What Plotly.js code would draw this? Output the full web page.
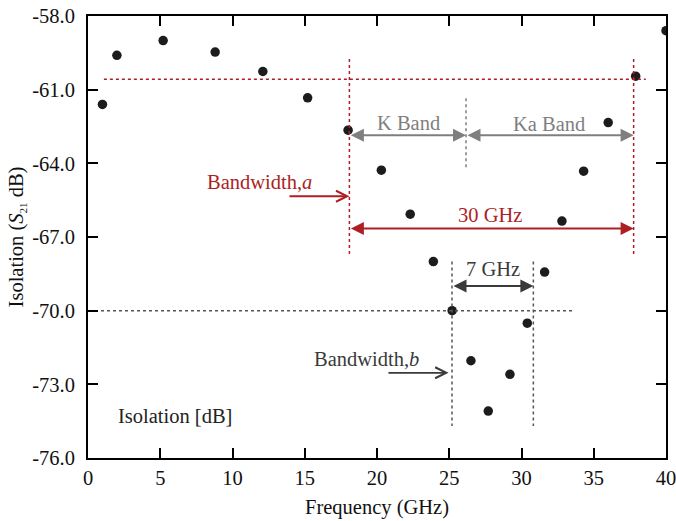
<!DOCTYPE html>
<html>
<head>
<meta charset="utf-8">
<script src="https://cdn.plot.ly/plotly-3.0.1.min.js"></script>
<style>html,body{margin:0;padding:0;background:#fff;}#chart{width:676px;height:521px;}</style>
</head>
<body>
<div id="chart"></div>
<script>
// Measured isolation values (frequency in GHz, isolation in dB)
const freq = [1.0, 2.0, 5.2, 8.8, 12.1, 15.2, 18.0, 20.3, 22.3, 23.9, 25.2, 26.5, 27.7, 29.2, 30.4, 31.6, 32.8, 34.3, 36.0, 37.9, 40.0];
const isolation = [-61.6, -59.6, -59.0, -59.47, -60.26, -61.33, -62.65, -64.28, -66.07, -68.0, -70.0, -72.04, -74.09, -72.59, -70.51, -68.43, -66.35, -64.32, -62.34, -60.45, -58.6];

const yTickVals = [-58, -61, -64, -67, -70, -73, -76];
const yTickText = ["-58.0", "-61.0", "-64.0", "-67.0", "-70.0", "-73.0", "-76.0"];
const xTickVals = [0, 5, 10, 15, 20, 25, 30, 35, 40];
const xTickText = ["0", "5", "10", "15", "20", "25", "30", "35", "40"];

// Reference levels and band edges
const levelA = -60.58;      // bandwidth a threshold
const levelB = -70.0;       // bandwidth b threshold
const edgeA = [18.09, 37.76];
const edgeB = [25.19, 30.82];
const kKaSplit = 26.16;

const RED = '#ad1f24';
const GRAY = '#7f7f7f';
const DARK = '#3a3a3a';
const FONT = 'Liberation Serif, Times New Roman, serif';
const FS = 20.5;

const shapes = [
  {type:'line', xref:'x', yref:'y', x0:1.1, x1:38.6, y0:levelA, y1:levelA, line:{color:RED, width:1.5, dash:'dot'}},
  {type:'line', xref:'x', yref:'y', x0:edgeA[0], x1:edgeA[0], y0:-59.75, y1:-67.8, line:{color:RED, width:1.5, dash:'dot'}},
  {type:'line', xref:'x', yref:'y', x0:edgeA[1], x1:edgeA[1], y0:-59.75, y1:-67.8, line:{color:RED, width:1.5, dash:'dot'}},
  {type:'line', xref:'x', yref:'y', x0:kKaSplit, x1:kKaSplit, y0:-61.35, y1:-64.28, line:{color:GRAY, width:1.5, dash:'dot'}},
  {type:'line', xref:'x', yref:'y', x0:0.9, x1:33.5, y0:levelB, y1:levelB, line:{color:'#555', width:1.5, dash:'dot'}},
  {type:'line', xref:'x', yref:'y', x0:edgeB[0], x1:edgeB[0], y0:-68.0, y1:-74.7, line:{color:'#555', width:1.5, dash:'dot'}},
  {type:'line', xref:'x', yref:'y', x0:edgeB[1], x1:edgeB[1], y0:-68.0, y1:-74.7, line:{color:'#555', width:1.5, dash:'dot'}}
];

function dblArrow(x0, x1, y, color) {
  return {xref:'x', yref:'y', axref:'x', ayref:'y', x:x1, y:y, ax:x0, ay:y, text:'',
    showarrow:true, arrowside:'end+start', arrowhead:2, startarrowhead:2,
    arrowsize:1.3, startarrowsize:1.3, arrowwidth:2, arrowcolor:color, standoff:0, startstandoff:0};
}
function arrow(x0, x1, y, color) {
  return {xref:'x', yref:'y', axref:'x', ayref:'y', x:x1, y:y, ax:x0, ay:y, text:'',
    showarrow:true, arrowhead:5, arrowsize:1.2, arrowwidth:1.8, arrowcolor:color, standoff:0};
}
function label(x, y, txt, color) {
  return {xref:'x', yref:'y', x:x, y:y, text:txt, showarrow:false, xanchor:'center', yanchor:'middle',
    font:{family:FONT, size:FS, color:color}};
}

const annotations = [
  dblArrow(edgeA[0], kKaSplit, -62.86, GRAY),
  dblArrow(kKaSplit, edgeA[1], -62.86, GRAY),
  dblArrow(edgeA[0], edgeA[1], -66.65, RED),
  dblArrow(edgeB[0], edgeB[1], -69.0, DARK),
  arrow(13.84, edgeA[0], -65.34, RED),
  arrow(20.69, 24.95, -72.53, DARK),
  label(22.15, -62.37, 'K Band', GRAY),
  label(31.9, -62.41, 'Ka Band', GRAY),
  label(27.82, -66.1, '30 GHz', RED),
  label(11.9, -64.77, 'Bandwidth,<i>a</i>', RED),
  label(28.0, -68.3, '7 GHz', DARK),
  label(19.3, -71.96, 'Bandwidth,<i>b</i>', DARK),
  label(6.02, -74.3, 'Isolation [dB]', '#222')
];

const trace = {
  x: freq, y: isolation, type:'scatter', mode:'markers',
  marker:{size:9.5, color:'#1c1c1c'}, cliponaxis:true, hoverinfo:'skip'
};

const layout = {
  width:676, height:521,
  margin:{l:88, r:10, t:16, b:63},
  paper_bgcolor:'#fff', plot_bgcolor:'#fff',
  showlegend:false,
  font:{family:FONT, size:FS, color:'#111'},
  xaxis:{range:[0,40], tickvals:xTickVals, ticktext:xTickText, ticks:'inside', ticklen:10, tickwidth:2,
    tickcolor:'#000', showline:true, linewidth:2, linecolor:'#000', mirror:'allticks', showgrid:false, zeroline:false,
    tickfont:{family:FONT, size:FS, color:'#111'}, ticklabeloverflow:'allow',
    title:{text:'Frequency (GHz)', font:{family:FONT, size:FS, color:'#111'}, standoff:12}},
  yaxis:{range:[-76,-58], tickvals:yTickVals, ticktext:yTickText, ticks:'inside', ticklen:10, tickwidth:2,
    tickcolor:'#000', showline:true, linewidth:2, linecolor:'#000', mirror:'allticks', showgrid:false, zeroline:false,
    tickfont:{family:FONT, size:FS, color:'#111'}, ticklabelstandoff:7,
    title:{text:'Isolation (<i>S</i><sub><span style="font-size:11px">21</span></sub> dB)', font:{family:FONT, size:FS, color:'#111'}, standoff:3}},
  shapes:shapes,
  annotations:annotations
};

Plotly.newPlot('chart', [trace], layout, {displayModeBar:false, staticPlot:true});
</script>
</body>
</html>
